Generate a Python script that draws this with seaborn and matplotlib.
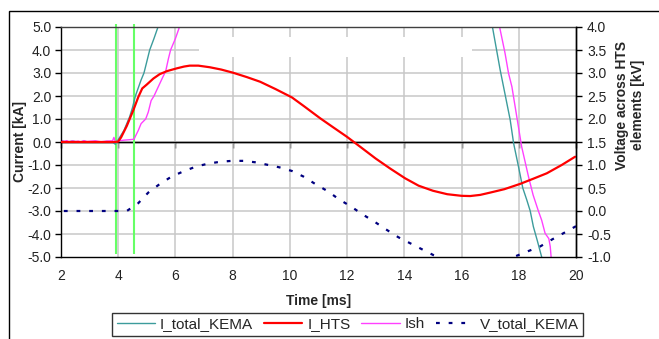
import numpy as np
import pandas as pd
import matplotlib
matplotlib.use("Agg")
import matplotlib.pyplot as plt
import seaborn as sns
from matplotlib.patches import Rectangle

# ---------------- data ----------------
t_total = [2.0, 2.2, 2.4, 2.6, 2.8, 3.0, 3.2, 3.4, 3.6, 3.8, 3.9, 4.0, 4.2, 4.4, 4.5,
           4.6, 4.8, 4.9, 5.0, 5.1, 5.25, 5.39, 5.6,
           17.0, 17.08, 17.35, 17.5, 17.7, 17.82, 17.99, 18.14, 18.28, 18.4, 18.51, 18.65, 18.8, 18.9]
i_total = [0.05, 0.0, 0.04, 0.0, 0.03, 0.0, 0.02, 0.0, 0.02, 0.0, -0.1, 0.1, 0.5, 1.1, 1.5,
           2.0, 2.7, 3.0, 3.5, 4.0, 4.5, 5.0, 6.0,
           5.4, 5.0, 3.13, 2.2, 0.96, -0.06, -1.07, -2.0, -2.52, -3.0, -3.68, -4.3, -5.0, -5.5]

t_hts = [2.0, 3.0, 3.9, 4.0, 4.1, 4.3, 4.53, 4.7, 4.84, 5.0, 5.23, 5.45, 5.7, 6.04, 6.3,
         6.5, 6.8, 7.2, 7.6, 8.02, 8.5, 8.96, 9.5, 10.07, 10.5, 11.06, 11.5, 11.99, 12.45,
         13.0, 13.5, 14.03, 14.5, 15.0, 15.5, 16.0, 16.3, 16.65, 17.0, 17.5, 18.05, 18.5,
         18.98, 19.5, 19.97]
i_hts = [0.0, 0.0, 0.0, 0.02, 0.2, 0.7, 1.39, 1.95, 2.33, 2.5, 2.76, 2.95, 3.08, 3.2, 3.28,
         3.32, 3.32, 3.25, 3.15, 3.01, 2.82, 2.62, 2.3, 1.94, 1.55, 1.03, 0.65, 0.23, -0.2,
         -0.72, -1.15, -1.58, -1.9, -2.12, -2.27, -2.34, -2.35, -2.3, -2.2, -2.05, -1.82, -1.6,
         -1.36, -1.0, -0.64]

t_ish = [2.0, 2.1, 2.2, 2.3, 2.4, 2.5, 2.6, 2.7, 2.8, 2.9, 3.0, 3.2, 3.4, 3.6, 3.8, 3.85,
         3.9, 4.0, 4.2, 4.4, 4.55, 4.7, 4.8, 4.96, 5.05, 5.15, 5.25, 5.4, 5.55, 5.66, 5.75,
         5.83, 6.0, 6.14, 6.3,
         17.2, 17.33, 17.52, 17.64, 17.76, 17.93, 18.1, 18.34, 18.5, 18.68, 18.8, 18.92,
         19.05, 19.1, 19.13, 19.15]
i_ish = [0.08, 0.02, 0.06, 0.0, 0.05, 0.02, 0.04, 0.0, 0.06, 0.02, 0.03, 0.05, 0.01, 0.04,
         0.05, 0.2, 0.0, 0.05, 0.08, 0.1, 0.12, 0.5, 0.8, 1.0, 1.3, 1.8, 2.0, 2.4, 2.8, 3.08,
         3.6, 4.0, 4.5, 5.0, 5.6,
         5.6, 5.0, 3.86, 3.0, 2.4, 1.1, -0.2, -1.51, -2.3, -2.98, -3.4, -3.97,
         -4.2, -4.55, -5.0, -5.5]

t_volt = [2.1, 3.0, 4.0, 4.3, 4.7, 5.05, 5.46, 5.87, 6.31, 6.74, 7.15, 7.56, 7.97, 8.37,
          8.78, 9.25, 9.63, 10.07, 10.47, 10.88, 11.35, 11.7, 12.13, 12.53, 12.95, 13.36,
          13.79, 14.2, 14.61, 15.02, 15.5, 16.0, 16.5, 17.0, 17.5, 17.9, 18.34, 18.75,
          19.16, 19.57, 20.0]
v_total = [0.0, 0.0, 0.0, 0.0, 0.17, 0.4, 0.59, 0.75, 0.87, 0.97, 1.03, 1.07, 1.09, 1.09,
           1.06, 1.0, 0.95, 0.87, 0.75, 0.59, 0.42, 0.26, 0.1, -0.07, -0.23, -0.4,
           -0.57, -0.7, -0.83, -0.96, -1.08, -1.15, -1.18, -1.15, -1.07, -0.98, -0.87, -0.77,
           -0.62, -0.48, -0.33]

switch_t = [3.91, 4.55]

x_ticks = [2, 4, 6, 8, 10, 12, 14, 16, 18, 20]
y_left_ticks = [-5.0, -4.0, -3.0, -2.0, -1.0, 0.0, 1.0, 2.0, 3.0, 4.0, 5.0]
y_right_ticks = [-1.0, -0.5, 0.0, 0.5, 1.0, 1.5, 2.0, 2.5, 3.0, 3.5, 4.0]

# ---------------- styling ----------------
sns.set_theme(style="white")
plt.rcParams["font.family"] = ["Liberation Sans", "DejaVu Sans"]

W, H = 659, 339
fig = plt.figure(figsize=(W / 100, H / 100), dpi=100)
L, R, T, B = 61, 576, 27, 257
ax = fig.add_axes([L / W, 1 - B / H, (R - L) / W, (B - T) / H])
ax.set_xlim(2, 20)
ax.set_ylim(-5, 5)
ax.set_axisbelow(True)

GRID = "#c8c8c8"
for xv in x_ticks[1:-1]:
    ax.axvline(xv, color=GRID, lw=1.1, zorder=0.5)
for yv in y_left_ticks[1:-1]:
    ax.axhline(yv, color=GRID, lw=1.1, zorder=0.5)

# white box hiding part of the grid (as in reference)
ax.add_patch(Rectangle(((199 - L) / (R - L), (B - 57) / (B - T)),
                       (472 - 199) / (R - L), 20 / (B - T),
                       transform=ax.transAxes, facecolor="white", edgecolor="none", zorder=0.8))

# zero line with tick marks
ax.axhline(0, color="black", lw=1.0, zorder=0.9)
sec = ax.secondary_xaxis(0.5)
sec.set_alignment("bottom")
sec.set_xticks(x_ticks)
sec.tick_params(axis="x", direction="out", length=4, width=1, color="black",
                labelbottom=False, labeltop=False, bottom=True, top=False)
for s in sec.spines.values():
    s.set_color("black")
    s.set_linewidth(1.0)

# green switch markers
ax.vlines(switch_t, -4.85, 5.13, colors="#66ff66", lw=1.5, zorder=1.5, clip_on=False)

sns.lineplot(x=t_total, y=i_total, ax=ax, color="#3c9c9c", lw=1.0, label="I_total_KEMA",
             estimator=None, legend=False, zorder=2)
sns.lineplot(x=t_hts, y=i_hts, ax=ax, color="#ff0000", lw=1.6, label="I_HTS",
             estimator=None, legend=False, zorder=3)
sns.lineplot(x=t_ish, y=i_ish, ax=ax, color="#ff40ff", lw=1.0, label="Ish",
             estimator=None, legend=False, zorder=2.5)

ax2 = ax.twinx()
ax2.set_ylim(-1, 4)
sns.lineplot(x=t_volt, y=v_total, ax=ax2, color="#000080", lw=1.6, label="V_total_KEMA",
             estimator=None, legend=False, linestyle=(0, (1.7, 4.0)))

# ticks
ax.set_xticks(x_ticks)
ax.set_xticklabels([str(v) for v in x_ticks])
ax.set_yticks(y_left_ticks)
ax.set_yticklabels([f"{v:.1f}" for v in y_left_ticks])
ax2.set_yticks(y_right_ticks)
ax2.set_yticklabels([f"{v:.1f}" for v in y_right_ticks])
ax.tick_params(axis="x", bottom=False, length=0, pad=9, labelsize=10, labelcolor="#222222")
ax.tick_params(axis="y", left=True, direction="out", length=4, width=1, color="black",
               pad=3, labelsize=10, labelcolor="#222222")
ax2.tick_params(axis="y", right=True, direction="out", length=4, width=1, color="black",
                pad=4, labelsize=10, labelcolor="#222222")
ax.set_xlabel("")
ax.set_ylabel("")
ax2.set_ylabel("")

for a in (ax, ax2):
    for s in a.spines.values():
        s.set_color("black")
        s.set_linewidth(1.0)
ax.spines["top"].set_color("#404040")
ax2.spines["top"].set_visible(False)
ax2.spines["left"].set_visible(False)
ax2.spines["bottom"].set_visible(False)

# labels
fig.text(319 / W, 1 - 301 / H, "Time [ms]", ha="center", va="center",
         fontsize=10, fontweight="bold")
fig.text(20 / W, 1 - 142 / H, "Current [kA]", ha="center", va="center",
         rotation=90, fontsize=10, fontweight="bold")
fig.text(630 / W, 1 - 105 / H, "Voltage across HTS\nelements [kV]", ha="center",
         va="center", rotation=90, fontsize=10, fontweight="bold",
         multialignment="center", linespacing=1.1)

# legend
h1, l1 = ax.get_legend_handles_labels()
h2, l2 = ax2.get_legend_handles_labels()
leg = fig.legend(h1 + h2, l1 + l2, loc="center",
                 bbox_to_anchor=(347.5 / W, 1 - 324.5 / H), ncol=4, fontsize=11,
                 frameon=True, fancybox=False, shadow=False, edgecolor="black",
                 handlelength=2.5, handletextpad=0.35, columnspacing=0.7,
                 borderpad=0.3, borderaxespad=0)
leg.get_frame().set_linewidth(1.0)

# outer chart border (top and left visible)
fig.add_artist(Rectangle((9 / W, -0.2), 2.0, 1.2 - 11 / H, transform=fig.transFigure,
                         fill=False, edgecolor="black", lw=1.0, clip_on=False))

fig.savefig("out.png", dpi=100)
